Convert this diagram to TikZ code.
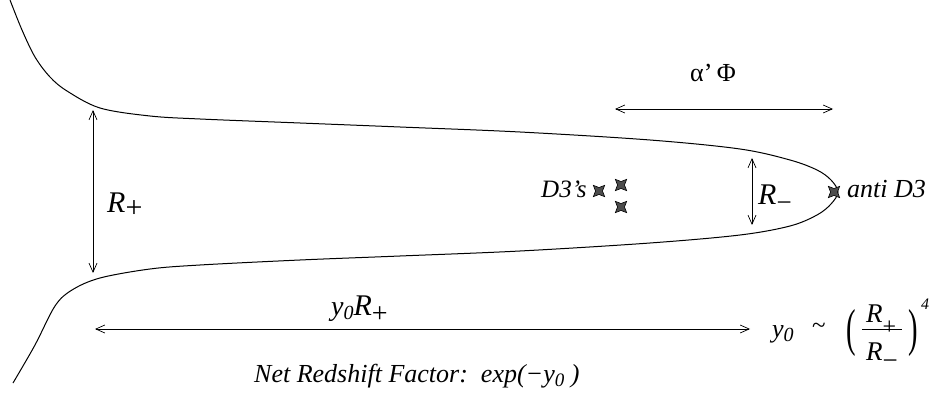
\documentclass[tikz,border=0pt]{standalone}
\usepackage{fontspec}
\setmainfont{Liberation Serif}
\usetikzlibrary{arrows.meta,shapes.geometric}
\newcommand\fs[1]{\fontsize{#1}{#1}\selectfont}
% lowered index: #1 = lowering, #2 = size, #3 = text
\newcommand\lidx[3]{\raisebox{-#1}{\fs{#2}#3}}
\begin{document}
\begin{tikzpicture}[x=1pt,y=-1pt,
  dim/.style={line width=0.7pt,{Straight Barb[length=9pt,width=8pt]}-{Straight Barb[length=9pt,width=8pt]}},
  wall/.style={line width=1pt},
  dstar/.style={star,star points=4,star point ratio=2.3,minimum size=16pt,inner sep=0pt,
    rotate=45,fill=black!70,draw=black,line width=0.6pt},
  lbl/.style={inner sep=0pt,anchor=base west,font=\fs{25}\itshape},
  big/.style={inner sep=0pt,anchor=base west,font=\fs{30}\itshape}]
\useasboundingbox (0,0) rectangle (932,398);
% throat boundary
\draw[wall] plot[smooth,tension=0.55] coordinates {
  (10,0) (22,30) (35,57) (50,77) (67,91) (100,108) (150,116) (200,119)
  (300,123) (400,127) (520,132) (650,140) (740,149) (790,160) (817,170)
  (831,180) (838,192) (831,204) (817,215) (790,226) (740,235) (650,243)
  (520,251) (400,256) (300,260) (200,265) (150,269) (100,278) (72,290)
  (55,306) (35,345) (13,383)};
% dimension arrows
\coordinate (rpt) at (93,110); \coordinate (rpb) at (93,273);
\draw[dim] (rpt) -- (rpb);
\coordinate (rmt) at (752,158); \coordinate (rmb) at (752,225);
\draw[dim] (rmt) -- (rmb);
\coordinate (apl) at (615,109); \coordinate (apr) at (833,109);
\draw[dim] (apl) -- (apr);
\coordinate (yl) at (95,329); \coordinate (yr) at (750,329);
\draw[dim] (yl) -- (yr);
% labels
\node[big] (lrp) at (107,213) {R\lidx{5pt}{30}{\upshape +}};
\node[big] (lrm) at (758,205) {R\lidx{7pt}{27}{\upshape −}};
\node[big] (lyr) at (331,315) {\fs{28}y\lidx{5pt}{20}{0}\fs{30}R\lidx{7.5pt}{28}{\upshape +}};
\node[inner sep=0pt,anchor=base west,font=\fs{26}] (lap) at (690,82) {α’\,Φ};
\node[lbl] (ld3) at (541,198) {D3’s};
\node[lbl,font=\fs{26}\itshape] (lad) at (847,198) {anti D3};
\node[lbl,font=\fs{26}\itshape] (lnet) at (254,382) {Net Redshift Factor:\ \ exp(−y\lidx{4pt}{19}{0}\ )};
% branes
\node[dstar] (s1) at (599,191) {};
\node[dstar] (s2) at (621,185) {};
\node[dstar] (s3) at (621,207) {};
\node[dstar] (s4) at (834,192) {};
% relation
\node[lbl,font=\fs{26}\itshape] (ly0) at (772,337) {y\lidx{5pt}{20}{0}};
\node[inner sep=0pt,font=\fs{25}] (tld) at (819,328) {\char`~};
\node[inner sep=0pt,font=\fs{52}] (lpar) at (851,333) {\scalebox{0.55}[1]{(}};
\node[inner sep=0pt,font=\fs{52}] (rpar) at (913,333) {\scalebox{0.55}[1]{)}};
\coordinate (fbl) at (862,329); \coordinate (fbr) at (902,329);
\draw[line width=0.8pt] (fbl) -- (fbr);
\node[inner sep=0pt,anchor=base west,font=\fs{27}\itshape] (num) at (866,322) {R\lidx{12pt}{24}{\upshape +}};
\node[inner sep=0pt,anchor=base west,font=\fs{27}\itshape] (den) at (866,360) {R\lidx{9pt}{27}{\upshape −}};
\node[inner sep=0pt,anchor=base west,font=\fs{16}\itshape] (ex) at (921,309) {4};
\end{tikzpicture}
\end{document}
